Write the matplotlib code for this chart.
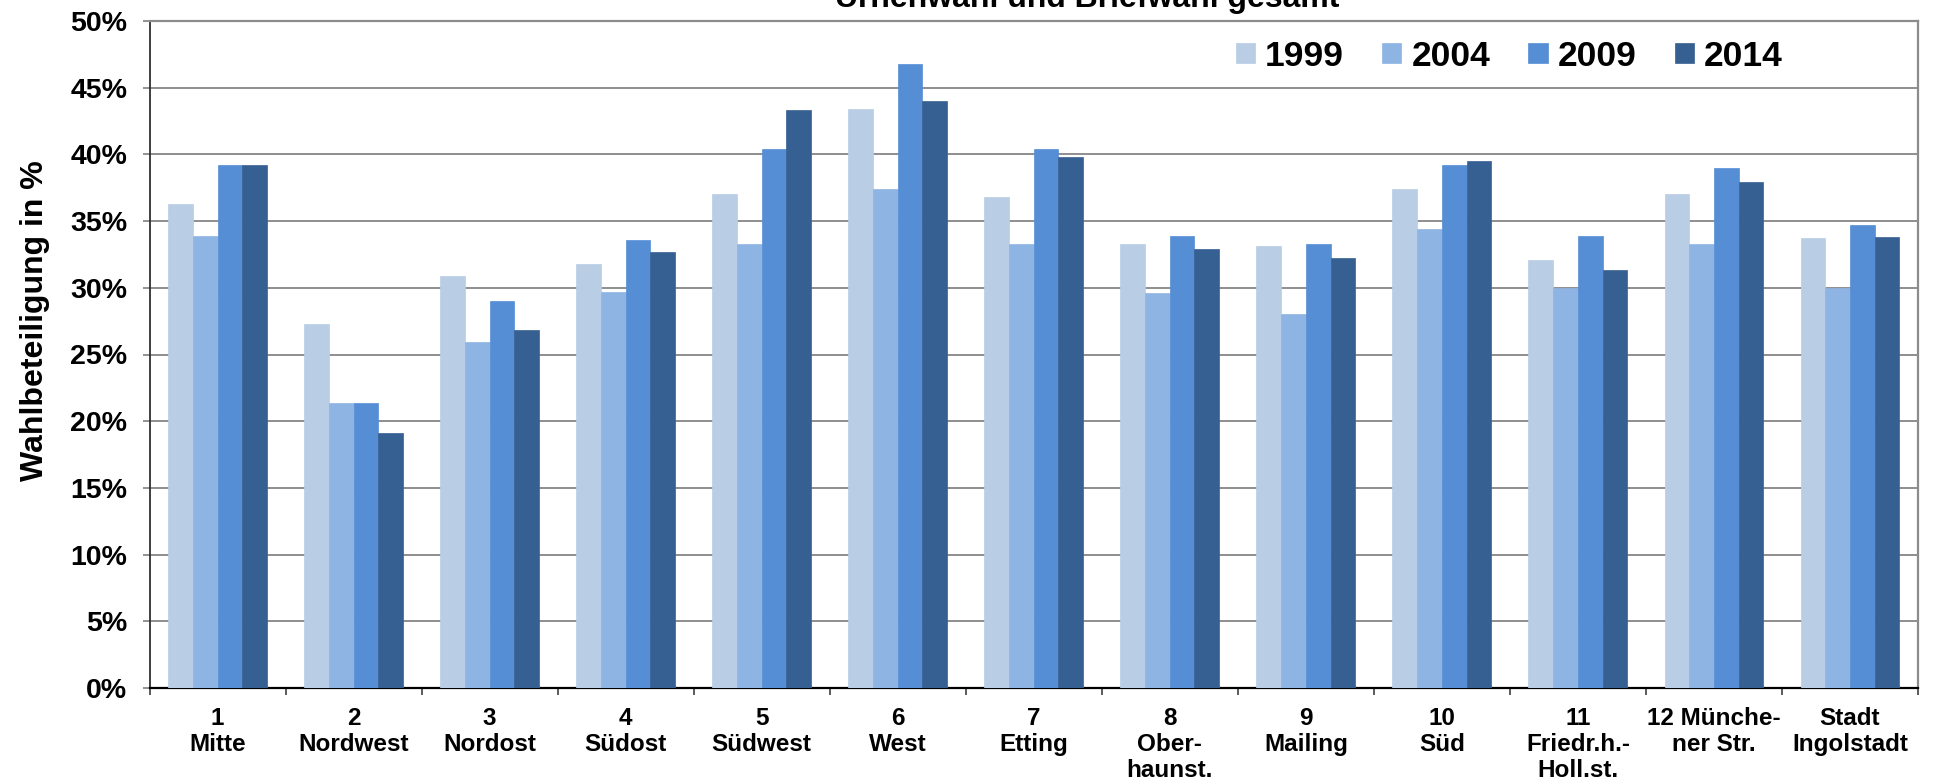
import matplotlib
matplotlib.use("Agg")
import matplotlib.pyplot as plt
import numpy as np
from matplotlib.ticker import PercentFormatter, FixedLocator

plt.rcParams['font.family'] = ['Liberation Sans', 'DejaVu Sans']
plt.rcParams['font.weight'] = 'bold'

categories = ["1\nMitte", "2\nNordwest", "3\nNordost", "4\nSüdost", "5\nSüdwest",
              "6\nWest", "7\nEtting", "8\nOber-\nhaunst.", "9\nMailing", "10\nSüd",
              "11\nFriedr.h.-\nHoll.st.", "12 Münche-\nner Str.", "Stadt\nIngolstadt"]
years = ["1999", "2004", "2009", "2014"]
v1999 = [36.3, 27.3, 30.9, 31.8, 37.0, 43.4, 36.8, 33.3, 33.1, 37.4, 32.1, 37.0, 33.7]
v2004 = [33.9, 21.4, 25.9, 29.7, 33.3, 37.4, 33.3, 29.6, 28.0, 34.4, 30.0, 33.3, 30.0]
v2009 = [39.2, 21.4, 29.0, 33.6, 40.4, 46.8, 40.4, 33.9, 33.3, 39.2, 33.9, 39.0, 34.7]
v2014 = [39.2, 19.1, 26.8, 32.7, 43.3, 44.0, 39.8, 32.9, 32.2, 39.5, 31.3, 37.9, 33.8]
series = [v1999, v2004, v2009, v2014]
colors = ["#B9CDE5", "#8EB4E3", "#558ED5", "#376092"]
title = "Urnenwahl und Briefwahl gesamt"
ylabel = "Wahlbeteiligung in %"

W, H = 1935, 783
fig = plt.figure(figsize=(W / 100, H / 100), dpi=100)
ax = fig.add_axes([149.5 / W, 95 / H, 1768.5 / W, 667 / H])

x = np.arange(len(categories))
bw = 0.1816
handles = []
for i, (vals, c, yr) in enumerate(zip(series, colors, years)):
    b = ax.bar(x + (i - 1.5) * bw, vals, width=bw, color=c, label=yr,
               edgecolor=c, linewidth=0.5, zorder=3)
    handles.append(b)

ax.set_xlim(-0.5, len(categories) - 0.5)
ax.set_ylim(0, 50)
ax.set_yticks(np.arange(0, 51, 5))
ax.yaxis.set_major_formatter(PercentFormatter(decimals=0))
ax.yaxis.grid(True, color="#868686", linewidth=1.3, zorder=0)
ax.set_axisbelow(True)

ax.set_xticks(x)
ax.set_xticklabels(categories, fontsize=17.5, fontweight='bold', linespacing=1.15)
ax.xaxis.set_minor_locator(FixedLocator(np.arange(-0.5, len(categories), 1)))
ax.tick_params(axis='x', which='major', length=0, pad=14)
ax.tick_params(axis='x', which='minor', length=5, width=1.2, color='#404040')
ax.tick_params(axis='y', which='major', length=5, width=1.2, color='#808080',
               labelsize=20.5, pad=11)
for lab in ax.get_yticklabels():
    lab.set_fontweight('bold')

for s in ['top', 'right']:
    ax.spines[s].set_color('#8c8c8c')
    ax.spines[s].set_linewidth(1.6)
ax.spines['left'].set_color('#303030')
ax.spines['left'].set_linewidth(1.3)
ax.spines['bottom'].set_color('#000000')
ax.spines['bottom'].set_linewidth(1.6)

ax.set_ylabel(ylabel, fontsize=23, fontweight='bold', va='baseline', ha='center')
ax.yaxis.set_label_coords((43 - 149.5) / 1768.5, (688 - 321) / 667)

fig.text(1087 / W, 1 - 7 / H, title, ha='center', va='baseline',
         fontsize=23, fontweight='bold')

fs = 25.5
leg = fig.legend(handles=handles, labels=years, loc='center left',
                 bbox_to_anchor=(1236 / W, 1 - 56 / H), ncol=4, frameon=False,
                 prop={'family': 'Liberation Sans', 'weight': 'bold', 'size': fs},
                 handlelength=0.54, handleheight=0.51, handletextpad=0.28,
                 columnspacing=1.08, borderpad=0, borderaxespad=0)

fig.savefig("out.png", dpi=100)
